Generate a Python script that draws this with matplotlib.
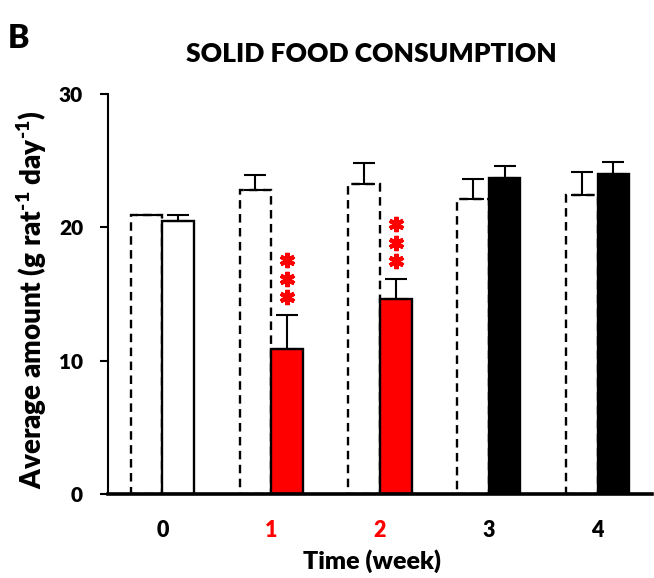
import matplotlib
matplotlib.use("Agg")
import matplotlib.pyplot as plt
import numpy as np

plt.rcParams['font.family'] = ['Lato', 'DejaVu Sans']
plt.rcParams['font.weight'] = 'heavy'
plt.rcParams['mathtext.fontset'] = 'custom'
plt.rcParams['mathtext.rm'] = 'Lato:weight=heavy'
plt.rcParams['mathtext.default'] = 'regular'

# Weekly solid food consumption (g rat^-1 day^-1)
weeks = ['0', '1', '2', '3', '4']
week_colors = ['black', 'red', 'red', 'black', 'black']
control_mean = [20.9, 22.8, 23.25, 22.1, 22.45]
control_err = [0.05, 1.1, 1.6, 1.5, 1.7]
treated_mean = [20.45, 10.9, 14.6, 23.7, 24.0]
treated_err = [0.45, 2.55, 1.55, 0.9, 0.9]
treated_colors = ['white', 'red', 'red', 'black', 'black']
significant = [False, True, True, False, False]

fig = plt.figure(figsize=(6.54, 5.78), dpi=100)
ax = fig.add_axes([108 / 654, 84 / 578, 544 / 654, 400 / 578])

x = np.arange(len(weeks))
w = 0.29
lw = 1.7

zeros = np.zeros(len(weeks))
ax.bar(x - w / 2, control_mean, width=w, color='white', edgecolor='black',
       linewidth=lw, linestyle=(0, (3.6, 2.3)), zorder=2)
ax.errorbar(x - w / 2, control_mean, yerr=[zeros, control_err], fmt='none',
            ecolor='black', elinewidth=1.5, capsize=8, capthick=1.5, zorder=3)
ax.bar(x + w / 2, treated_mean, width=w, color=treated_colors, edgecolor='black',
       linewidth=lw, zorder=2)
ax.errorbar(x + w / 2, treated_mean, yerr=[zeros, treated_err], fmt='none',
            ecolor='black', elinewidth=1.5, capsize=8, capthick=1.5, zorder=3)

# Significance markers (***) stacked above the treated error bars
for i, sig in enumerate(significant):
    if sig:
        base = treated_mean[i] + treated_err[i]
        ys = base + np.array([1.3, 2.7, 4.1])
        ax.plot([x[i] + w / 2] * 3, ys, linestyle='none', marker=(6, 2, 0),
                markersize=11, markeredgewidth=3.0, color='red', zorder=4)

ax.set_xlim(-0.5, 4.5)
ax.set_ylim(0, 30)
ax.set_yticks([0, 10, 20, 30])
ax.set_xticks(x)
ax.set_xticklabels(weeks)
for lbl, c in zip(ax.get_xticklabels(), week_colors):
    lbl.set_color(c)
    lbl.set_fontsize(15.5)
for lbl in ax.get_yticklabels():
    lbl.set_fontsize(15)

ax.tick_params(axis='x', length=0, pad=19)
ax.tick_params(axis='y', length=6, width=1.5, direction='out', pad=12)

for s in ['top', 'right']:
    ax.spines[s].set_visible(False)
ax.spines['left'].set_linewidth(1.5)
ax.spines['bottom'].set_linewidth(2.6)
ax.spines['bottom'].set_zorder(5)

fig.text(371 / 654, 1 - 54 / 578, 'SOLID FOOD CONSUMPTION', ha='center', va='center',
         fontsize=19)
fig.text(19 / 654, 1 - 38 / 578, 'B', ha='center', va='center', fontsize=23)
fig.text(372 / 654, 1 - 561 / 578, 'Time (week)', ha='center', va='center',
         fontsize=18)
fig.text(32 / 654, 1 - 300 / 578,
         r'Average amount (g rat$^{\text{-1}}$ day$^{\text{-1}}$)',
         ha='center', va='center', rotation=90, fontsize=20)

fig.savefig('out.png', dpi=100)
